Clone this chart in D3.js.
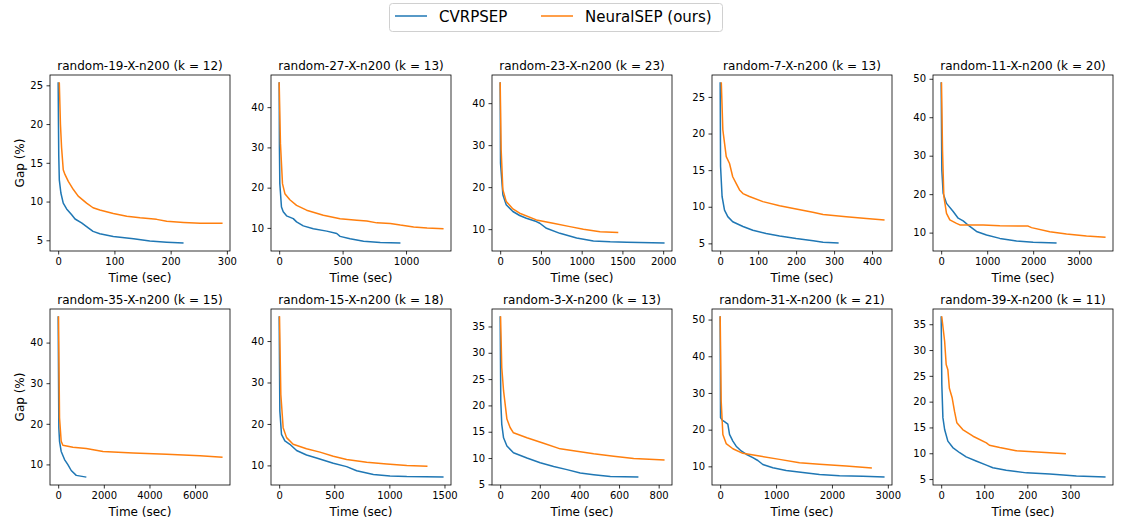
<!DOCTYPE html>
<html>
<head>
<meta charset="utf-8">
<script src="https://cdn.jsdelivr.net/npm/d3@7"></script>
<style>
    body { margin: 0; background: #fff; }
    text { font-family: "DejaVu Sans", sans-serif; fill: #000; }
</style>
</head>
<body>
<script>
// instance names and k values, one per panel (row by row)
var instances = ["random-19-X-n200", "random-27-X-n200", "random-23-X-n200",
    "random-7-X-n200", "random-11-X-n200", "random-35-X-n200",
    "random-15-X-n200", "random-3-X-n200", "random-31-X-n200",
    "random-39-X-n200"];
var kValues = [12, 13, 23, 13, 20, 15, 18, 13, 21, 11];

// tick labels per panel
var xTicks = [[0, 100, 200, 300], [0, 500, 1000], [0, 500, 1000, 1500, 2000],
    [0, 100, 200, 300, 400], [0, 1000, 2000, 3000], [0, 2000, 4000, 6000],
    [0, 500, 1000, 1500], [0, 200, 400, 600, 800], [0, 1000, 2000, 3000],
    [0, 100, 200, 300]];
var yTicks = [[5, 10, 15, 20, 25], [10, 20, 30, 40], [10, 20, 30, 40],
    [5, 10, 15, 20, 25], [10, 20, 30, 40, 50], [10, 20, 30, 40],
    [10, 20, 30, 40], [5, 10, 15, 20, 25, 30, 35], [10, 20, 30, 40, 50],
    [5, 10, 15, 20, 25, 30, 35]];

// CVRPSEP: [time (sec), gap (%)] per panel
var cvrpsep = [
    [[0,25.3],[0.5,20],[1,16],[2,12.8],[4.8,11.1],[9,9.8],[15,9.05],[24,8.3],[30,7.75],[41.6,7.25],[53.5,6.6],[62,6.15],[74,5.85],[98,5.5],[134,5.2],[163,4.9],[193,4.75],[221.6,4.65]],
    [[0,46],[2,30],[5,21],[18,15.2],[32,14.0],[58,13.0],[111,12.3],[137,11.5],[190,10.5],[269,9.8],[375,9.2],[454,8.6],[480,7.9],[559,7.3],[665,6.7],[797,6.35],[950,6.25]],
    [[0,44.8],[4,25.7],[33,18.2],[74,15.8],[156,14.2],[239,13.25],[321,12.6],[444,11.8],[486,11.4],[568,10.2],[733,9.0],[938,7.9],[1144,7.2],[1350,7.0],[1555,6.9],[2008,6.7]],
    [[0,26.9],[1,15.5],[5,11.4],[11.4,9.55],[20,8.65],[33,7.95],[60,7.3],[86,6.8],[121,6.35],[156.5,6.0],[200,5.65],[245,5.35],[271,5.15],[310,5.05]],
    [[0,48.9],[14,26.3],[43,20.2],[116,17.6],[261,15.5],[370,13.75],[478,13.05],[623,11.6],[768,10.3],[986,9.4],[1275,8.5],[1638,7.8],[2000,7.5],[2493,7.3]],
    [[0,46.3],[29,19.0],[59,15.7],[132,13.2],[279,11.2],[425,9.95],[572,8.5],[792,7.3],[1202,6.9]],
    [[0,45.8],[6,23.1],[21,17.5],[51.5,15.9],[97,15.1],[158,13.6],[248,12.5],[339,11.8],[491,10.5],[612,9.7],[703,8.7],[855,7.8],[1006,7.45],[1158,7.3],[1485,7.2]],
    [[0,36.8],[3,20.9],[8,16.4],[17,13.85],[34,12.3],[67,11.0],[135,10.0],[202,9.1],[270,8.4],[337,7.8],[404,7.15],[472,6.85],[556,6.5],[694,6.4]],
    [[0,50.7],[6,23.3],[36,22.6],[77,22.2],[137,21.5],[167,18.7],[227,16.9],[286,15.5],[376,14.2],[465,13.3],[584,12.4],[674,11.6],[763,10.5],[942,9.6],[1181,8.9],[1479,8.3],[1777,7.8],[2135,7.45],[2552,7.3],[2928,7.1]],
    [[0,36.4],[1.5,23.3],[4,16.9],[8,14.6],[15.5,12.35],[27,11.1],[43,10.1],[58,9.3],[81,8.5],[105,7.7],[120,7.2],[151,6.7],[198,6.2],[252,6.0],[291,5.75],[314,5.6],[380,5.4]]
];

// NeuralSEP (ours)
var neuralsep = [
    [[2,25.3],[4,20],[6,17],[9,14.1],[12,13.5],[18,12.6],[27,11.55],[35.6,10.7],[50.5,9.8],[62,9.2],[74,8.9],[98,8.45],[122,8.1],[145.6,7.9],[175,7.7],[193,7.45],[223,7.3],[252.5,7.2],[291,7.2]],
    [[0,46],[10,31],[26,21],[45,18.5],[84,17.0],[137,15.6],[216,14.4],[348,13.15],[480,12.3],[612,11.9],[691,11.7],[770,11.25],[876,11.1],[955,10.7],[1060,10.25],[1166,10.0],[1290,9.8]],
    [[0,44.8],[12,28.9],[33,19.4],[74,16.6],[156,14.8],[239,13.8],[444,12.2],[650,11.4],[856,10.6],[1021,10.0],[1226,9.4],[1440,9.2]],
    [[3,26.9],[7,20.5],[16,16.85],[24.6,15.9],[33,14.1],[42,13.2],[51,12.3],[60,11.8],[77,11.4],[112.5,10.7],[156.5,10.15],[200,9.7],[244,9.25],[271,8.95],[332,8.65],[385,8.4],[431,8.2]],
    [[7,48.9],[29,31.5],[58,19.4],[116,15.0],[188,13.3],[333,12.4],[406,12.0],[913,12.0],[1275,11.8],[1891,11.7],[1964,11.3],[2362,10.25],[2725,9.65],[3159,9.1],[3558,8.8]],
    [[15,46.3],[59,21.5],[132,15.7],[205,14.7],[645,14.2],[1232,13.9],[1965,13.2],[3284,12.8],[4750,12.5],[6217,12.15],[7170,11.75]],
    [[3,45.8],[15,27.1],[36,19.1],[67,16.7],[127,15.1],[248,14.0],[370,13.2],[491,12.2],[612,11.4],[794,10.75],[976,10.35],[1158,9.95],[1339,9.8]],
    [[2,36.8],[8,27.2],[17,22.8],[34,17.4],[50,15.8],[67,14.8],[135,13.85],[219,12.8],[303,11.75],[387,11.3],[472,10.8],[573,10.35],[674,9.9],[826,9.65]],
    [[0,50.7],[18,27.8],[48,18.7],[107,16.2],[227,14.8],[405,13.55],[704,12.8],[1061,11.9],[1419,11.0],[1777,10.55],[2254,10.1],[2701,9.6]],
    [[1.5,36.4],[8,31.7],[11.6,27.2],[15.5,26.2],[19,22.6],[25.6,20.7],[31,18.1],[36.4,15.9],[50,14.6],[74,13.3],[105,12.0],[112,11.55],[136,11.1],[174,10.5],[213,10.3],[252,10.1],[288,9.9]]
];

var seriesNames = ["CVRPSEP", "NeuralSEP (ours)"];
var colors = ["#1f77b4", "#ff7f0e"];

var width = 1121, height = 523;
var colLeft = [50, 271, 492, 712, 933];
var rowTop = [75, 309];
var pw = 180, ph = 176;

var svg = d3.select("body").append("svg")
    .attr("width", width)
    .attr("height", height);

// matplotlib style 5% padding around the data
function padded(ext) {
    var r = ext[1] - ext[0];
    return [ext[0] - 0.05 * r, ext[1] + 0.05 * r];
}

var line = d3.line();
var fmt = d3.format("d");

instances.forEach(function(name, i) {
    var row = Math.floor(i / 5), col = i % 5;
    var g = svg.append("g")
        .attr("transform", "translate(" + colLeft[col] + "," + rowTop[row] + ")");

    var all = cvrpsep[i].concat(neuralsep[i]);
    var x = d3.scaleLinear()
        .domain(padded(d3.extent(all, function(d) { return d[0]; })))
        .range([0, pw]);
    var y = d3.scaleLinear()
        .domain(padded(d3.extent(all, function(d) { return d[1]; })))
        .range([ph, 0]);

    line.x(function(d) { return x(d[0]); })
        .y(function(d) { return y(d[1]); });

    [cvrpsep[i], neuralsep[i]].forEach(function(s, j) {
        g.append("path")
            .attr("d", line(s))
            .attr("fill", "none")
            .attr("stroke", colors[j])
            .attr("stroke-width", 1.5)
            .attr("stroke-linejoin", "round")
            .attr("stroke-linecap", "square");
    });

    var xAxis = g.append("g")
        .attr("transform", "translate(0," + ph + ")")
        .call(d3.axisBottom(x).tickValues(xTicks[i]).tickFormat(fmt)
            .tickSize(3.5).tickPadding(3.5).tickSizeOuter(0));
    var yAxis = g.append("g")
        .call(d3.axisLeft(y).tickValues(yTicks[i]).tickFormat(fmt)
            .tickSize(3.5).tickPadding(3.5).tickSizeOuter(0));
    [xAxis, yAxis].forEach(function(a) {
        a.select(".domain").remove();
        a.selectAll("line").attr("stroke", "#000").attr("stroke-width", 0.8);
        a.selectAll("text").style("font-size", "10px")
            .style("font-family", "DejaVu Sans").attr("fill", "#000");
    });

    g.append("rect")
        .attr("width", pw)
        .attr("height", ph)
        .attr("fill", "none")
        .attr("stroke", "#000")
        .attr("stroke-width", 0.8);

    g.append("text")
        .attr("x", pw / 2)
        .attr("y", -5)
        .attr("text-anchor", "middle")
        .style("font-size", "12px")
        .text(name + " (k = " + kValues[i] + ")");

    g.append("text")
        .attr("x", pw / 2)
        .attr("y", ph + 30.5)
        .attr("text-anchor", "middle")
        .style("font-size", "12px")
        .text("Time (sec)");

    if (col == 0) {
        g.append("text")
            .attr("transform", "translate(-26," + (ph / 2) + ") rotate(-90)")
            .attr("text-anchor", "middle")
            .style("font-size", "12px")
            .text("Gap (%)");
    }
});

// legend
var legend = svg.append("g");
legend.append("rect")
    .attr("x", 389.5).attr("y", 3.5)
    .attr("width", 333).attr("height", 28)
    .attr("rx", 3)
    .attr("fill", "#fff")
    .attr("stroke", "#d0d0d0")
    .attr("stroke-width", 1);
var legendX = [395, 541];
seriesNames.forEach(function(n, j) {
    legend.append("line")
        .attr("x1", legendX[j]).attr("x2", legendX[j] + 32)
        .attr("y1", 16).attr("y2", 16)
        .attr("stroke", colors[j])
        .attr("stroke-width", 1.5);
    legend.append("text")
        .attr("x", legendX[j] + 44)
        .attr("y", 22)
        .style("font-size", "15px")
        .text(n);
});
</script>
</body>
</html>
